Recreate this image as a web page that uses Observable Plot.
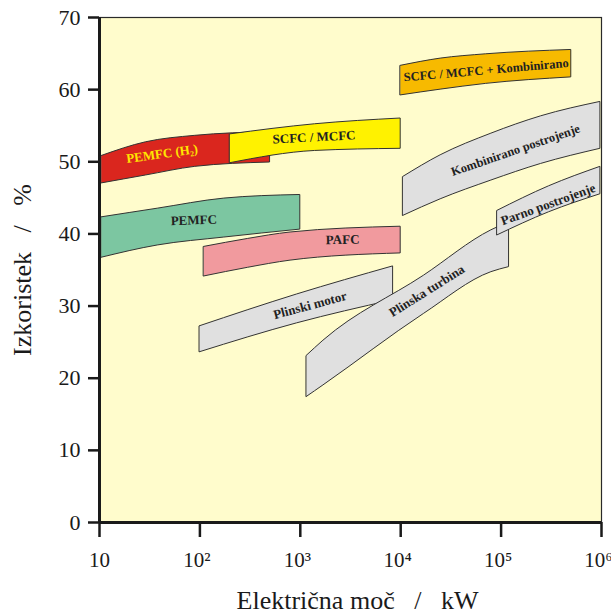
<!DOCTYPE html>
<html>
<head>
<meta charset="utf-8">
<script src="https://cdn.jsdelivr.net/npm/d3@7"></script>
<script src="https://cdn.jsdelivr.net/npm/@observablehq/plot@0.6"></script>
<style>
  html, body { margin: 0; padding: 0; background: #ffffff; }
  #chart svg { display: block; }
</style>
</head>
<body>
<div id="chart"></div>
<script>
// ---- Data (electric power in kW, efficiency in %) ----
const bandNames = ["PEMFC", "PAFC", "PEMFC (H2)", "SCFC / MCFC", "SCFC / MCFC + Kombinirano",
  "Plinski motor", "Plinska turbina", "Kombinirano postrojenje", "Parno postrojenje"];
const bandColors = ["#7cc6a1", "#f19a9e", "#da261e", "#fff200", "#f7ba00",
  "#e0e0e0", "#e0e0e0", "#e0e0e0", "#e0e0e0"];

const pemfcX = [10.5, 38, 175, 1000];
const pemfcTop = [42.3, 43.5, 44.9, 45.4];
const pemfcBottom = [36.7, 38.4, 39.5, 40.6];

const pafcX = [110, 300, 800, 10000];
const pafcTop = [38.2, 39.3, 40.2, 41.0];
const pafcBottom = [34.1, 35.3, 36.3, 37.3];

const pemfcH2X = [10.5, 29, 90, 500];
const pemfcH2Top = [50.8, 52.7, 53.6, 54.1];
const pemfcH2Bottom = [47.0, 48.1, 49.3, 49.9];

const scfcX = [200, 1400, 10000];
const scfcTop = [53.8, 55.2, 56.0];
const scfcBottom = [49.8, 51.5, 51.8];

const scfcKombX = [10000, 25000, 71000, 500000];
const scfcKombTop = [63.3, 64.3, 64.9, 65.5];
const scfcKombBottom = [59.2, 60.0, 60.8, 61.7];

const motorX = [100, 925, 8400];
const motorTop = [27.2, 31.6, 35.5];
const motorBottom = [23.6, 27.6, 30.8];

const turbinaX = [1160, 1700, 17000, 80000, 120000];
const turbinaTop = [23.1, 25.2, 34.2, 40.5, 41.6];
const turbinaBottom = [17.4, 19.0, 28.9, 34.7, 35.4];

const kombX = [10600, 25000, 80000, 250000, 975000];
const kombTop = [47.9, 50.9, 53.9, 56.3, 58.3];
const kombBottom = [42.5, 44.8, 47.4, 49.7, 51.8];

const parnoX = [92000, 300000, 975000];
const parnoTop = [43.2, 46.6, 49.3];
const parnoBottom = [39.8, 43.0, 45.5];

const xTicks = [10, 100, 1000, 10000, 100000, 1000000];
const xTickLabels = ["10", "10²", "10³", "10⁴", "10⁵", "10⁶"];
const yTicks = [0, 10, 20, 30, 40, 50, 60, 70];

const labelTexts = ["PEMFC (H₂)", "SCFC / MCFC", "PEMFC", "PAFC", "SCFC / MCFC + Kombinirano",
  "Kombinirano postrojenje", "Parno postrojenje", "Plinski motor", "Plinska turbina"];
const labelX = [42, 1370, 87, 2640, 71000, 139000, 294000, 1250, 18200];
const labelY = [51.1, 53.4, 41.9, 39.2, 62.7, 51.6, 44.1, 30.1, 32.1];
const labelAngle = [-8, -3, -2, -1, -5, -19, -20, -15, -32];
const labelColor = ["#ffe600", "#222", "#222", "#222", "#222", "#222", "#222", "#222", "#222"];

// ---- Build table ----
const bandSeries = [
  [pemfcX, pemfcTop, pemfcBottom],
  [pafcX, pafcTop, pafcBottom],
  [pemfcH2X, pemfcH2Top, pemfcH2Bottom],
  [scfcX, scfcTop, scfcBottom],
  [scfcKombX, scfcKombTop, scfcKombBottom],
  [motorX, motorTop, motorBottom],
  [turbinaX, turbinaTop, turbinaBottom],
  [kombX, kombTop, kombBottom],
  [parnoX, parnoTop, parnoBottom]
];
const rows = [];
bandSeries.forEach(([xs, tops, bots], i) => {
  xs.forEach((x, j) => rows.push({band: bandNames[i], x, top: tops[j], bottom: bots[j]}));
});
const labels = labelTexts.map((t, i) => ({text: t, x: labelX[i], y: labelY[i], angle: labelAngle[i], color: labelColor[i]}));
const tickLabelOf = new Map(xTicks.map((t, i) => [t, xTickLabels[i]]));

const serif = "'Liberation Serif', 'Times New Roman', Times, serif";
const sp3 = "\u00a0\u00a0\u00a0";

const chart = Plot.plot({
  width: 611,
  height: 616,
  marginLeft: 99,
  marginRight: 10,
  marginTop: 17,
  marginBottom: 94,
  style: {fontFamily: serif, background: "#ffffff", color: "#1a1a1a"},
  x: {type: "log", domain: [10, 1000000]},
  y: {domain: [0, 70]},
  color: {domain: bandNames, range: bandColors},
  marks: [
    Plot.frame({fill: "#fffccc", stroke: "#2a2a2a", strokeWidth: 1.2}),
    Plot.areaY(rows, {x: "x", y1: "bottom", y2: "top", z: "band", fill: "band",
      stroke: "#333", strokeWidth: 1, curve: "monotone-x"}),
    ...labels.map(l => Plot.text([l], {x: "x", y: "y", text: "text", rotate: l.angle,
      fill: l.color, fontSize: l.text.length > 20 ? 12.5 : 13, fontWeight: "bold", fontFamily: serif})),
    Plot.ruleX([10], {stroke: "#1a1a1a", strokeWidth: 3}),
    Plot.ruleY([0], {stroke: "#1a1a1a", strokeWidth: 3}),
    // tick marks
    Plot.axisX({ticks: xTicks, tickFormat: () => "", tickSize: 15, strokeWidth: 2.5, label: null}),
    // tick labels (plain first, superscripted ones nudged left like the original)
    Plot.axisX({ticks: xTicks.slice(0, 1), tickFormat: d => tickLabelOf.get(d), tickSize: 0, tickPadding: 30,
      fontSize: 21, label: null}),
    Plot.axisX({ticks: xTicks.slice(1), tickFormat: d => tickLabelOf.get(d), tickSize: 0, tickPadding: 30,
      dx: -3, fontSize: 21, label: null}),
    Plot.axisY({ticks: yTicks, tickFormat: d => String(d), tickSize: 11, tickPadding: 8,
      strokeWidth: 2.5, fontSize: 22, label: null}),
    Plot.text(["Električna moč" + sp3 + "/" + sp3 + "kW"], {frameAnchor: "bottom", dx: 7, dy: 86,
      lineAnchor: "bottom", textAnchor: "middle", fontSize: 26, fontFamily: serif, fill: "#1a1a1a"}),
    Plot.text(["Izkoristek" + sp3 + "/" + sp3 + "%"], {frameAnchor: "left", dx: -76.5, rotate: -90,
      textAnchor: "middle", lineAnchor: "middle", fontSize: 26, fontFamily: serif, fill: "#1a1a1a"})
  ]
});
document.getElementById("chart").appendChild(chart);
</script>
</body>
</html>
